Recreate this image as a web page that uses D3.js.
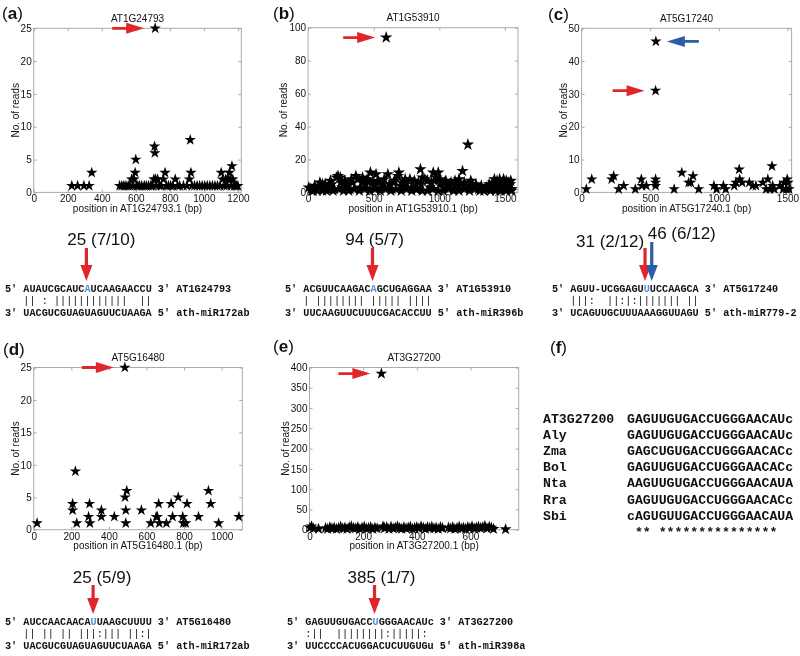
<!DOCTYPE html>
<html>
<head>
<meta charset="utf-8">
<script src="https://cdn.jsdelivr.net/npm/d3@7"></script>
<style>
  body { margin: 0; background: #fff; }
  svg { opacity: 0.999; will-change: transform; }
  text { font-family: "Liberation Sans", Arial, sans-serif; fill: #111; }
  .mono { font-family: "Liberation Mono", "Courier New", monospace; font-weight: bold; white-space: pre; }
</style>
</head>
<body>
<svg id="fig" width="800" height="656"></svg>
<script>
// ---- data ----
const genes = ["AT1G24793", "AT1G53910", "AT5G17240", "AT5G16480", "AT3G27200"];
const panelLetters = ["a", "b", "c", "d", "e"];

// [position (bp), no. of reads]
const aReads = [[224,1],[258,1],[295,1],[326,1],[341,3],
  [505,1],[518,1],[530,1],[542,1],[555,1],[565,1],[575,2],[582,1],[590,2],[596,3],[600,5],[604,1],[612,1],[622,1],
  [635,1],[650,1],[662,1],[675,1],[688,1],[698,1],[706,2],[710,7],[712,6],[714,25],[716,2],[720,1],[728,2],[738,1],
  [750,1],[762,2],[772,3],[780,1],[792,1],[805,1],[818,1],[832,2],[845,1],[858,1],[880,1],[900,1],[915,2],[920,8],
  [924,3],[930,1],[945,1],[960,1],[975,1],[990,1],[1005,1],[1020,1],[1035,1],[1050,1],[1065,1],[1080,1],[1095,1],
  [1102,3],[1110,2],[1120,1],[1128,2],[1135,1],[1142,2],[1150,3],[1155,2],[1162,1],[1165,4],[1170,2],[1178,1],
  [1185,1],[1192,1],[1200,1]];

const bReads = [[5,3],[20,2],[40,1],[60,2],[80,3],[108,5],[120,2],[140,1],[160,3],[180,5],[200,2],[215,9],[228,10],
  [245,9],[260,3],[280,7],[300,4],[320,2],[340,6],[364,10],[380,8],[400,3],[415,9],[440,5],[460,7],[475,12],[500,4],
  [518,11],[540,6],[560,3],[580,8],[595,94],[608,11],[620,5],[640,2],[660,7],[685,10],[692,12],[705,4],[720,6],[740,8],
  [760,3],[776,8],[800,5],[820,2],[840,6],[856,14],[872,9],[890,8],[910,7],[930,3],[954,12],[962,7],[975,9],[992,12],
  [1010,5],[1030,3],[1050,7],[1070,4],[1090,6],[1110,2],[1130,5],[1150,8],[1177,13],[1190,6],[1218,29],[1225,4],
  [1240,7],[1260,3],[1280,5],[1300,2],[1320,4],[1340,1],[1360,3],[1380,5],[1400,4],[1410,6],[1420,8],[1430,3],
  [1440,7],[1450,5],[1460,8],[1470,2],[1480,6],[1490,8],[1500,4],[1510,7],[1520,3],[1530,6],[1540,5],[1550,2],
  [30,1],[70,1],[110,1],[150,2],[190,1],[235,2],[270,1],[310,1],[350,2],[390,1],[430,2],[470,1],[510,2],[550,1],
  [590,2],[630,1],[670,2],[710,1],[750,2],[790,1],[830,2],[870,1],[910,1],[950,2],[990,1],[1030,1],[1070,2],[1110,1],
  [1150,1],[1190,2],[1230,1],[1270,2],[1310,1],[1350,2],[1390,1],[1430,1],[1470,1],[1510,1],[1550,1],
  [50,4],[90,6],[130,5],[170,7],[250,6],[290,5],[330,8],[410,6],[450,8],[490,6],[530,7],[570,5],[650,6],[730,5],
  [810,7],[860,5],[940,6],[1000,8],[1040,6],[1080,5],[1120,7],[1160,5],[1200,4],[1250,5],[1415,3],[1445,4],[1475,5],
  [1495,2],[1525,5],[1545,7]];

const cReads = [[34,1],[74,4],[219,4],[234,5],[270,1],[307,2],[391,1],[435,4],[440,2],[472,2],[539,4],[539,2],
  [539,3],[539,31],[541,46],[674,1],[730,6],[780,3],[795,3],[812,5],[853,1],[964,2],[983,1],[1033,2],[1050,1],
  [1112,2],[1124,3],[1148,7],[1152,4],[1170,3],[1222,3],[1246,2],[1270,2],[1320,3],[1345,1],[1357,4],[1372,1],
  [1387,8],[1392,2],[1404,1],[1444,2],[1468,1],[1474,3],[1493,1],[1498,4],[1505,3],[1512,1]];

const dReads = [[18,1],[207,4],[207,3],[222,9],[229,1],[292,2],[297,4],[299,1],[360,3],[360,2],[429,2],[485,25],
  [490,1],[490,3],[486,5],[495,6],[573,3],[623,1],[652,2],[658,2],[665,4],[668,1],[706,1],[731,4],[739,2],[769,5],
  [793,2],[796,1],[809,1],[816,4],[877,2],[930,6],[942,4],[984,1],[1092,2]];

const eReads = [[2,5],[8,8],[14,3],[34,2],[60,4],[68,2],[76,6],[84,3],[92,5],[100,2],[108,4],[116,7],[124,3],[132,5],
  [140,2],[148,6],[156,8],[164,4],[172,3],[180,6],[188,2],[196,5],[204,7],[212,3],[220,4],[228,6],[236,2],[244,5],
  [252,3],[268,385],[274,8],[280,4],[288,6],[296,2],[304,7],[312,3],[320,5],[328,8],[336,4],[344,2],[352,6],[360,3],
  [368,5],[376,7],[384,2],[392,4],[400,6],[408,3],[416,8],[424,5],[432,2],[440,6],[448,4],[456,7],[464,3],[472,5],
  [480,2],[488,6],[496,4],[518,5],[526,3],[534,6],[542,2],[550,4],[558,7],[566,3],[574,5],[582,2],[590,6],[598,4],
  [606,8],[614,3],[622,5],[630,7],[638,4],[646,6],[654,9],[662,3],[670,7],[678,5],[686,2],[731,1]];

const readsList = [aReads, bReads, cReads, dReads, eReads];
const xMax = [1220, 1600, 1530, 1110, 780];
const yMax = [25, 100, 50, 25, 400];
const xTicks = [[0,200,400,600,800,1000,1200],[0,500,1000,1500],[0,500,1000,1500],[0,200,400,600,800,1000],[0,200,400,600]];
const yTicks = [[0,5,10,15,20,25],[0,20,40,60,80,100],[0,10,20,30,40,50],[0,5,10,15,20,25],[0,50,100,150,200,250,300,350,400]];
// peak(s) marked by arrows: [position, reads, direction]
const peaks = [[[714,25,"r"]],[[595,94,"r"]],[[541,46,"l"],[539,31,"r"]],[[485,25,"r"]],[[268,385,"r"]]];

// target-site alignments
const alnTarget = ["AUAUCGCAUCAUCAAGAACCU", "ACGUUCAAGACAGCUGAGGAA", "AGUU-UCGGAGUUUCCAAGCA", "AUCCAACAACAUUAAGCUUUU", "GAGUUGUGACCUGGGAACAUc"];
const alnMatch  = ["|| : ||||||||||||  ||", "| |||||||| ||||| ||||", "|||:  ||:|:||||||| ||", "|| || || |||:||| ||:|", ":||  ||||||||:|||||: "];
const alnMirna  = ["UACGUCGUAGUAGUUCUAAGA", "UUCAAGUUCUUUCGACACCUU", "UCAGUUGCUUUAAAGGUUAGU", "UACGUCGUAGUAGUUCUAAGA", "UUCCCCACUGGACUCUUGUGu"];
const mirNames  = ["ath-miR172ab", "ath-miR396b", "ath-miR779-2", "ath-miR172ab", "ath-miR398a"];
const alnCut    = [10, 11, 12, 11, 11];
const cutLabels = [["25 (7/10)"], ["94 (5/7)"], ["31 (2/12)", "46 (6/12)"], ["25 (5/9)"], ["385 (1/7)"]];

// conservation panel (f)
const consNames = ["AT3G27200", "Aly", "Zma", "Bol", "Nta", "Rra", "Sbi"];
const consSeqs  = ["GAGUUGUGACCUGGGAACAUc", "GAGUUGUGACCUGGGAACAUc", "GAGCUGUGACCUGGGAACACc", "GAGUUGUGACCUGGGAACACc",
                   "AAGUUGUGACCUGGGAACAUA", "GAGUUGUGACCUGGGAACACc", "cAGUGUUGACCUGGGAACAUA"];
const consStars = " ** ***************";

// ---- layout ----
const plotBox = [
  {l: 33.7, r: 241.3, t: 28.3, b: 192.4},
  {l: 308.1, r: 518, t: 27.7, b: 192.4},
  {l: 581.6, r: 791.6, t: 28.3, b: 192.4},
  {l: 33.7, r: 242.3, t: 367.5, b: 529.7},
  {l: 309.5, r: 518.7, t: 367.5, b: 529.7}
];
const ylabOffset = [18.5, 24.5, 18, 18.5, 24.5];
const starSize = [40, 48, 40, 40, 44];
const letterPos = [[2, 13], [273, 13], [548, 14], [3, 349], [273, 346], [550, 347]];
const alnLayout = [
  {x: 5, y: 288, labelDx: [15], labelY: [238.7], arrowTop: [248], shift: [0.3], colors: ["r"]},
  {x: 285, y: 288, labelDx: [2], labelY: [238.7], arrowTop: [248], shift: [0.3], colors: ["r"]},
  {x: 552, y: 288, labelDx: [-35, 30], labelY: [241, 233], arrowTop: [248, 242], shift: [0.2, 1.3], colors: ["r", "b"]},
  {x: 5, y: 621, labelDx: [9], labelY: [577], arrowTop: [585], shift: [0.4], colors: ["r"]},
  {x: 287, y: 621, labelDx: [7], labelY: [577], arrowTop: [585], shift: [0.3], colors: ["r"]}
];

const red = "#e1262b", blue = "#2c5ea8", hiBlue = "#5b8fd3", gray = "#aaa";
const svg = d3.select("#fig");

const hArrow = (g, tx, ty, dir, color) => {
  const L = 32, H = 18, W = 5.5, s = 1.4, k = dir === "r" ? 1 : -1;
  const pts = [[-L, -s], [-H, -s], [-H, -W], [0, 0], [-H, W], [-H, s], [-L, s]];
  g.append("path")
    .attr("d", "M" + pts.map(p => [tx + k * p[0], ty + p[1]].join(",")).join("L") + "Z")
    .attr("fill", color);
};

const vArrow = (g, ax, top, tip, color) => {
  const H = 16, W = 6, s = 1.6;
  const pts = [[-s, top], [s, top], [s, tip - H], [W, tip - H], [0, tip], [-W, tip - H], [-s, tip - H]];
  g.append("path")
    .attr("d", "M" + pts.map(p => [ax + p[0], p[1]].join(",")).join("L") + "Z")
    .attr("fill", color);
};

const panelLetter = (i, letter) => {
  const t = svg.append("text").attr("x", letterPos[i][0]).attr("y", letterPos[i][1])
    .attr("dy", "0.35em").attr("font-size", 17);
  t.append("tspan").text("(");
  t.append("tspan").attr("font-weight", "bold").text(letter);
  t.append("tspan").text(")");
};

const styleAxis = sel => {
  sel.select(".domain").remove();
  sel.selectAll("line").attr("stroke", gray);
  sel.selectAll("text").attr("font-size", 10).attr("fill", "#222")
    .attr("font-family", "Liberation Sans, Arial, sans-serif");
};

const drawPlot = i => {
  const box = plotBox[i];
  const x = d3.scaleLinear().domain([0, xMax[i]]).range([box.l, box.r]);
  const y = d3.scaleLinear().domain([0, yMax[i]]).range([box.b, box.t]);
  const g = svg.append("g");
  const fmt = d3.format("d");

  g.append("g").attr("transform", `translate(0,${box.b})`)
    .call(d3.axisBottom(x).tickValues(xTicks[i]).tickFormat(fmt).tickSizeInner(-3).tickSizeOuter(0).tickPadding(3))
    .call(styleAxis);
  g.append("g").attr("transform", `translate(0,${box.t})`)
    .call(d3.axisTop(x).tickValues(xTicks[i]).tickSizeInner(-3).tickSizeOuter(0).tickFormat(""))
    .call(styleAxis);
  g.append("g").attr("transform", `translate(${box.l},0)`)
    .call(d3.axisLeft(y).tickValues(yTicks[i]).tickFormat(fmt).tickSizeInner(-3).tickSizeOuter(0).tickPadding(2))
    .call(styleAxis);
  g.append("g").attr("transform", `translate(${box.r},0)`)
    .call(d3.axisRight(y).tickValues(yTicks[i]).tickSizeInner(-3).tickSizeOuter(0).tickFormat(""))
    .call(styleAxis);

  g.append("rect").attr("x", box.l).attr("y", box.t)
    .attr("width", box.r - box.l).attr("height", box.b - box.t)
    .attr("fill", "none").attr("stroke", gray).attr("stroke-width", 1);

  g.append("text").attr("x", (box.l + box.r) / 2).attr("y", box.t - 10)
    .attr("text-anchor", "middle").attr("dy", "0.35em").attr("font-size", 10).text(genes[i]);
  g.append("text").attr("x", (box.l + box.r) / 2).attr("y", box.b + 16)
    .attr("text-anchor", "middle").attr("dy", "0.35em").attr("font-size", 10)
    .text(`position in ${genes[i]}.1 (bp)`);
  g.append("text")
    .attr("transform", `translate(${box.l - ylabOffset[i]},${(box.t + box.b) / 2}) rotate(-90)`)
    .attr("text-anchor", "middle").attr("dy", "0.35em").attr("font-size", 10).text("No. of reads");

  g.append("g").selectAll("path").data(readsList[i]).join("path")
    .attr("transform", d => `translate(${x(d[0])},${y(d[1])})`)
    .attr("d", d3.symbol(d3.symbolStar, starSize[i]))
    .attr("fill", "#000");

  peaks[i].forEach(p => {
    const px = x(p[0]), py = y(p[1]);
    if (p[2] === "r") hArrow(g, px - 11, py, "r", red);
    else hArrow(g, px + 11, py, "l", blue);
  });
};

const drawAlignment = i => {
  const lay = alnLayout[i];
  const fs = 10.2, cw = 0.6 * fs, step = 12;
  const g = svg.append("g");
  const cut = alnCut[i], tgt = alnTarget[i];

  const t1 = g.append("text").attr("class", "mono").attr("xml:space", "preserve")
    .attr("x", lay.x).attr("y", lay.y).attr("dy", "0.35em").attr("font-size", fs);
  t1.append("tspan").text("5' " + tgt.slice(0, cut));
  t1.append("tspan").attr("style", `fill:${hiBlue}`).text(tgt[cut]);
  t1.append("tspan").text(tgt.slice(cut + 1) + " 3' " + genes[i]);

  g.append("text").attr("class", "mono").attr("xml:space", "preserve")
    .attr("x", lay.x).attr("y", lay.y + step).attr("dy", "0.35em").attr("font-size", fs)
    .style("font-weight", "normal")
    .text("   " + alnMatch[i]);
  g.append("text").attr("class", "mono").attr("xml:space", "preserve")
    .attr("x", lay.x).attr("y", lay.y + 2 * step).attr("dy", "0.35em").attr("font-size", fs)
    .text("3' " + alnMirna[i] + " 5' " + mirNames[i]);

  cutLabels[i].forEach((lab, k) => {
    const ax = lay.x + (3 + cut + lay.shift[k]) * cw;
    vArrow(g, ax, lay.arrowTop[k], lay.y - 7, lay.colors[k] === "r" ? red : blue);
    g.append("text").attr("x", ax + lay.labelDx[k]).attr("y", lay.labelY[k])
      .attr("text-anchor", "middle").attr("dy", "0.35em").attr("font-size", 17).text(lab);
  });
};

const drawConservation = () => {
  const fs = 13.2, rowStep = 16.2, y0 = 418;
  const g = svg.append("g");
  consNames.forEach((name, k) => {
    g.append("text").attr("class", "mono").attr("x", 543).attr("y", y0 + k * rowStep)
      .attr("dy", "0.35em").attr("font-size", fs).text(name);
    g.append("text").attr("class", "mono").attr("x", 627).attr("y", y0 + k * rowStep)
      .attr("dy", "0.35em").attr("font-size", fs).text(consSeqs[k]);
  });
  g.append("text").attr("class", "mono").attr("xml:space", "preserve")
    .attr("x", 627).attr("y", y0 + consNames.length * rowStep).attr("dy", "0.35em")
    .attr("font-size", fs).text(consStars);
};

panelLetters.forEach((letter, i) => {
  panelLetter(i, letter);
  drawPlot(i);
  drawAlignment(i);
});
panelLetter(5, "f");
drawConservation();
</script>
</body>
</html>
